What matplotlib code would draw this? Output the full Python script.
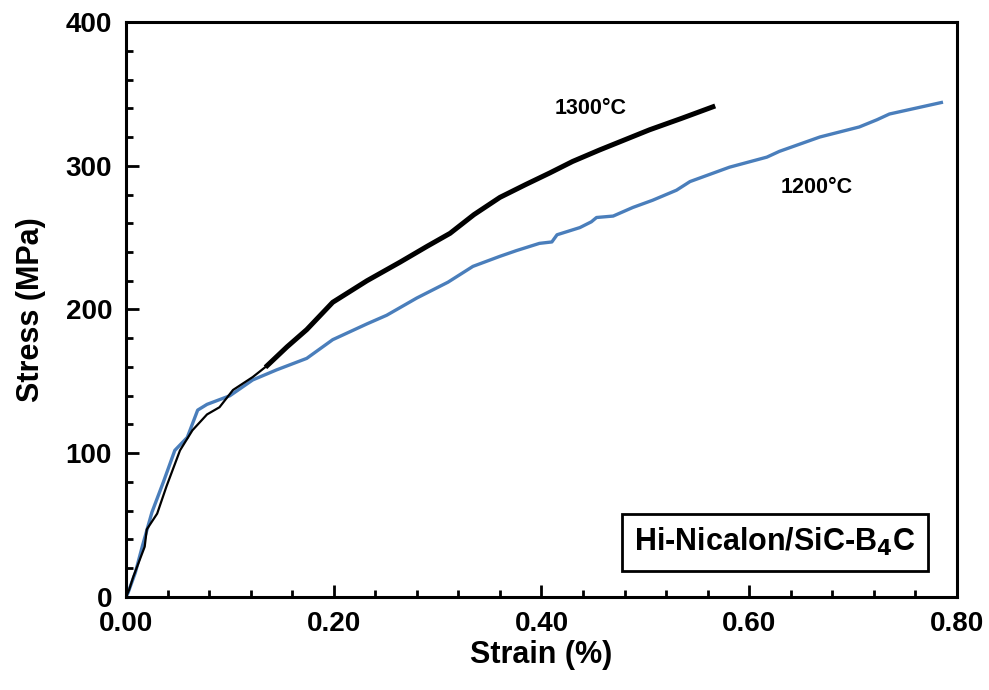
import matplotlib.pyplot as plt
from matplotlib.ticker import MultipleLocator, FormatStrFormatter

plt.rcParams['font.family'] = ['Liberation Sans', 'DejaVu Sans']
plt.rcParams['font.weight'] = 'bold'

# 1200°C curve (strain %, stress MPa)
strain_1200 = [0.000, 0.002, 0.009, 0.016, 0.025, 0.036, 0.047, 0.059, 0.069, 0.078,
               0.100, 0.122, 0.145, 0.174, 0.199, 0.232, 0.251, 0.280, 0.310, 0.334,
               0.360, 0.376, 0.398, 0.410, 0.415, 0.437, 0.448, 0.453, 0.469, 0.488,
               0.507, 0.530, 0.543, 0.581, 0.617, 0.629, 0.668, 0.706, 0.723, 0.735,
               0.760, 0.785]
stress_1200 = [0, 3, 17, 36, 59, 80, 102, 111, 130, 134,
               140, 151, 158, 166, 179, 190, 196, 208, 219, 230,
               237, 241, 246, 247, 252, 257, 261, 264, 265, 271,
               276, 283, 289, 299, 306, 310, 320, 327, 332, 336,
               340, 344]

# 1300°C curve
strain_1300 = [0.000, 0.003, 0.007, 0.018, 0.020, 0.030, 0.039, 0.052, 0.064, 0.078,
               0.090, 0.103, 0.122, 0.136, 0.155, 0.174, 0.199, 0.232, 0.264, 0.290,
               0.312, 0.335, 0.360, 0.385, 0.408, 0.430, 0.456, 0.480, 0.504, 0.535, 0.565]
stress_1300 = [0, 5, 14, 35, 47, 58, 77, 102, 116, 127,
               132, 144, 153, 161, 174, 186, 205, 220, 233, 244,
               253, 266, 278, 287, 295, 303, 311, 318, 325, 333, 341]

labels = ['1300°C', '1200°C']
label_pos = [(0.447, 340), (0.665, 285)]
material = 'Hi-Nicalon/SiC-B$_\\mathbf{4}$C'

blue = '#4A7EBB'

fig = plt.figure(figsize=(9.89, 6.90), dpi=100)
ax = fig.add_axes([0.1274, 0.1348, 0.8402, 0.8333])

ax.plot(strain_1200, stress_1200, color=blue, lw=2.4)
ax.plot(strain_1300, stress_1300, color='black', lw=1.6)
# upper part of the 1300°C trace is noisy, so it looks thicker
i0 = 13
ax.plot(strain_1300[i0:], stress_1300[i0:], color='black', lw=3.6)

for txt, (x, y) in zip(labels, label_pos):
    ax.text(x, y, txt, fontsize=15.5, fontweight='bold', ha='center', va='center')

ax.text(0.625, 38, material, fontsize=22, fontweight='bold', ha='center', va='center',
        bbox=dict(boxstyle='square,pad=0.4', facecolor='white', edgecolor='black', lw=2))

ax.set_xlim(0, 0.80)
ax.set_ylim(0, 400)
ax.xaxis.set_major_locator(MultipleLocator(0.20))
ax.xaxis.set_minor_locator(MultipleLocator(0.04))
ax.yaxis.set_major_locator(MultipleLocator(100))
ax.yaxis.set_minor_locator(MultipleLocator(20))
ax.xaxis.set_major_formatter(FormatStrFormatter('%.2f'))

ax.tick_params(which='both', direction='in', width=2, labelsize=20, pad=10)
ax.tick_params(which='major', length=9)
ax.tick_params(which='minor', length=5)
for sp in ax.spines.values():
    sp.set_linewidth(2.2)

ax.set_xlabel('Strain (%)', fontsize=22, fontweight='bold', labelpad=2)
ax.set_ylabel('Stress (MPa)', fontsize=22, fontweight='bold', labelpad=14)

fig.savefig('out.png', dpi=100)
